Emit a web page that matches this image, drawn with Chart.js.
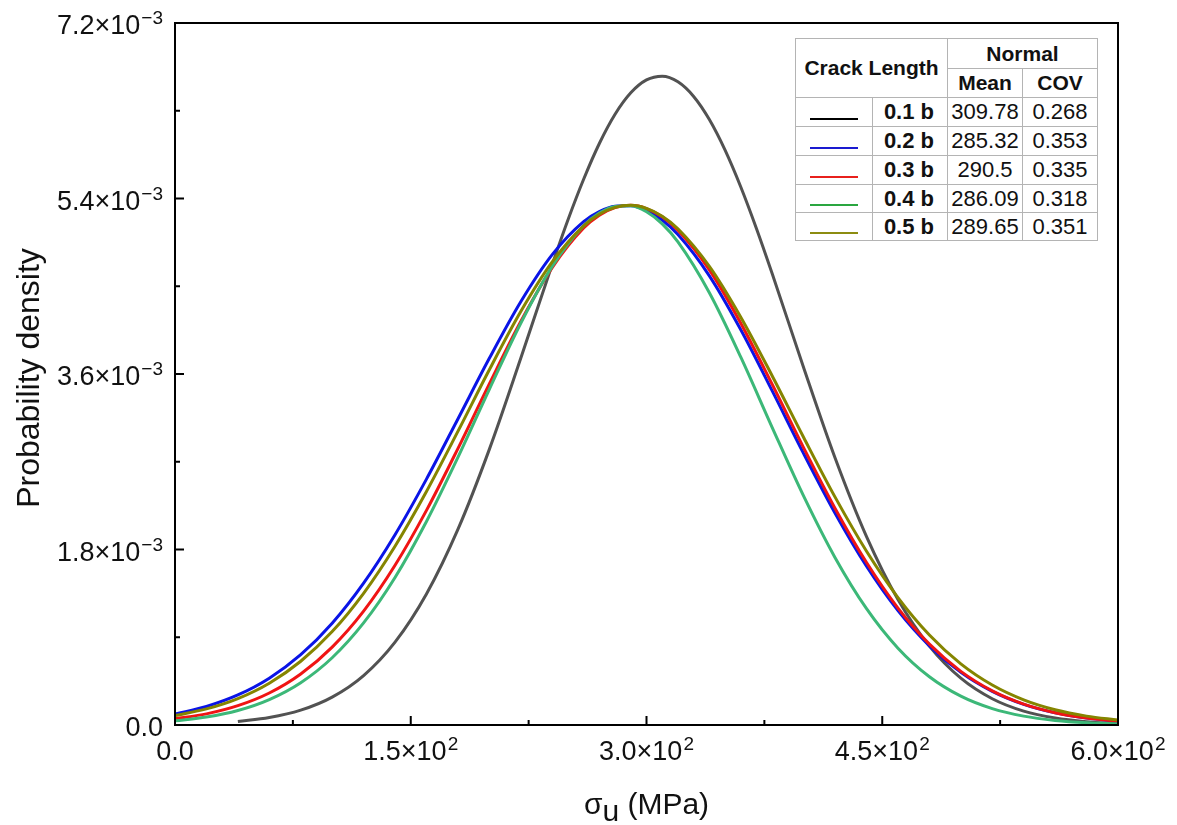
<!DOCTYPE html>
<html>
<head>
<meta charset="utf-8">
<script src="https://cdn.jsdelivr.net/npm/chart.js@4"></script>
<style>
  body { margin: 0; background: #fff; }
  #wrap { position: relative; width: 1177px; height: 825px; }
  #legendTable {
    position: absolute; left: 795px; top: 38px; width: 302px;
    border-collapse: collapse; table-layout: fixed; background: #fff;
    font-family: 'Liberation Sans', Arial, sans-serif; font-size: 22px; color: #111;
  }
  #legendTable td, #legendTable th { border: 1px solid #b4b4b4; padding: 0; text-align: center; }
  #legendTable th { font-weight: bold; font-size: 21px; }
  #legendTable td.lbl { text-align: right; padding-right: 13px; font-weight: bold; }
  #legendTable td.smp { position: relative; }
  #legendTable td.smp span { position: absolute; left: 14px; bottom: 6px; width: 48px; height: 2px; }
</style>
</head>
<body>
<div id="wrap">
  <canvas id="chart" width="1177" height="825"></canvas>
  <table id="legendTable">
    <colgroup><col style="width:77px"><col style="width:75px"><col style="width:75px"><col style="width:75px"></colgroup>
    <tr style="height:30px"><th colspan="2" rowspan="2">Crack Length</th><th colspan="2">Normal</th></tr>
    <tr style="height:29px"><th>Mean</th><th>COV</th></tr>
  </table>
</div>
<script>
// stress (MPa) and probability density (x10^-3), finer near the peaks
const stress = [0, 20, 40, 60, 80, 100, 120, 140, 160, 180, 200, 220, 240, 260, 270, 280, 290, 300, 310,
                320, 340, 360, 380, 400, 420, 440, 460, 480, 500, 520, 540, 560, 580, 600];
const stress01 = [40, 60, 80, 100, 120, 140, 160, 180, 200, 220, 240, 250, 260, 270, 280, 290, 300, 310,
                  320, 330, 340, 350, 360, 370, 380, 400, 420, 440, 460, 480, 500, 520, 540, 560, 580, 600];
const pdf01 = [0.036, 0.076, 0.152, 0.286, 0.507, 0.850, 1.344, 2.006, 2.827, 3.761, 4.722, 5.179, 5.597, 5.964,
               6.264, 6.484, 6.616, 6.655, 6.597, 6.447, 6.210, 5.896, 5.518, 5.090, 4.628, 3.665, 2.739, 1.933,
               1.287, 0.809, 0.480, 0.269, 0.142, 0.071, 0.034, 0.015];
const pdf02 = [0.113, 0.190, 0.308, 0.480, 0.721, 1.044, 1.455, 1.952, 2.522, 3.139, 3.761, 4.341, 4.824, 5.163,
               5.266, 5.321, 5.326, 5.278, 5.179,
               5.030, 4.607, 4.054, 3.427, 2.783, 2.172, 1.628, 1.173, 0.812, 0.540, 0.345, 0.212, 0.125, 0.071, 0.039];
const pdf03 = [0.063, 0.114, 0.198, 0.328, 0.523, 0.799, 1.168, 1.638, 2.201, 2.835, 3.499, 4.139, 4.691, 5.097,
               5.229, 5.307, 5.330, 5.297, 5.212,
               5.075, 4.668, 4.121, 3.493, 2.843, 2.221, 1.666, 1.199, 0.829, 0.550, 0.350, 0.214, 0.126, 0.071, 0.038];
const pdf04 = [0.043, 0.082, 0.149, 0.261, 0.434, 0.690, 1.047, 1.513, 2.087, 2.744, 3.443, 4.121, 4.704, 5.121,
               5.250, 5.319, 5.325, 5.264, 5.140,
               4.955, 4.434, 3.773, 3.051, 2.347, 1.716, 1.193, 0.788, 0.495, 0.296, 0.168, 0.091, 0.047, 0.023, 0.011];
const pdf05 = [0.096, 0.165, 0.271, 0.429, 0.654, 0.958, 1.351, 1.834, 2.395, 3.011, 3.643, 4.240, 4.749, 5.119,
               5.238, 5.309, 5.330, 5.299, 5.218,
               5.090, 4.704, 4.183, 3.580, 2.949, 2.337, 1.782, 1.307, 0.923, 0.627, 0.410, 0.258, 0.156, 0.091, 0.051];

const crackLabels = ['0.1 b', '0.2 b', '0.3 b', '0.4 b', '0.5 b'];
const means = ['309.78', '285.32', '290.5', '286.09', '289.65'];
const covs = ['0.268', '0.353', '0.335', '0.318', '0.351'];
const lineColors = ['#525252', '#0a14e6', '#f01414', '#3cb878', '#858500'];
const legendColors = ['#000000', '#1a1ad0', '#e8201c', '#2aa640', '#8c8c10'];

const xTickBase = ['0.0', '1.5×10', '3.0×10', '4.5×10', '6.0×10'];
const xTickExp = ['', '2', '2', '2', '2'];
const yTickBase = ['0.0', '1.8×10', '3.6×10', '5.4×10', '7.2×10'];
const yTickExp = ['', '−3', '−3', '−3', '−3'];

const FONT = "'Liberation Sans', Arial, sans-serif";

// legend table rows
const table = document.getElementById('legendTable');
const rowHeights = [29, 29, 29, 28, 28];
crackLabels.forEach((lab, i) => {
    const tr = document.createElement('tr');
    tr.style.height = rowHeights[i] + 'px';
    tr.innerHTML = '<td class="smp"><span style="background:' + legendColors[i] + '"></span></td>' +
        '<td class="lbl">' + lab + '</td><td>' + means[i] + '</td><td>' + covs[i] + '</td>';
    table.appendChild(tr);
});

function drawPow(ctx, base, exp, x, baseline, align, size, supSize, supRise) {
    ctx.font = size + 'px ' + FONT;
    const wb = ctx.measureText(base).width;
    ctx.font = supSize + 'px ' + FONT;
    const we = exp ? ctx.measureText(exp).width + 1 : 0;
    const total = wb + we;
    const start = align === 'right' ? x - total : x - total / 2;
    ctx.textAlign = 'left';
    ctx.textBaseline = 'alphabetic';
    ctx.font = size + 'px ' + FONT;
    ctx.fillText(base, start, baseline);
    if (exp) {
        ctx.font = supSize + 'px ' + FONT;
        ctx.fillText(exp, start + wb + 1, baseline - supRise);
    }
}

const axisFrame = {
    id: 'axisFrame',
    afterDraw(chart) {
        const { ctx, chartArea: a, scales: { x, y } } = chart;
        ctx.save();
        ctx.strokeStyle = '#000';
        ctx.lineWidth = 2;
        ctx.strokeRect(a.left, a.top, a.right - a.left, a.bottom - a.top);

        ctx.beginPath();
        x.ticks.forEach((t, i) => {
            const px = x.getPixelForValue(t.value);
            ctx.moveTo(px, a.bottom); ctx.lineTo(px, a.bottom - 9);
            if (i < x.ticks.length - 1) {
                const pm = x.getPixelForValue((t.value + x.ticks[i + 1].value) / 2);
                ctx.moveTo(pm, a.bottom); ctx.lineTo(pm, a.bottom - 5);
            }
        });
        y.ticks.forEach((t, i) => {
            const py = y.getPixelForValue(t.value);
            ctx.moveTo(a.left, py); ctx.lineTo(a.left + 9, py);
            if (i < y.ticks.length - 1) {
                const pm = y.getPixelForValue((t.value + y.ticks[i + 1].value) / 2);
                ctx.moveTo(a.left, pm); ctx.lineTo(a.left + 5, pm);
            }
        });
        ctx.stroke();

        ctx.fillStyle = '#111';
        x.ticks.forEach((t, i) => {
            drawPow(ctx, xTickBase[i], xTickExp[i], x.getPixelForValue(t.value), a.bottom + 35, 'center', 27, 19, 10);
        });
        y.ticks.forEach((t, i) => {
            drawPow(ctx, yTickBase[i], yTickExp[i], a.left - 12, y.getPixelForValue(t.value) + 11, 'right', 27, 19, 10);
        });

        // y title
        ctx.save();
        ctx.font = '32px ' + FONT;
        ctx.textAlign = 'center';
        ctx.textBaseline = 'alphabetic';
        ctx.translate(39, (a.top + a.bottom) / 2 + 4);
        ctx.rotate(-Math.PI / 2);
        ctx.fillText('Probability density', 0, 0);
        ctx.restore();

        // x title: sigma with subscript u
        ctx.font = '30px ' + FONT;
        const wS = ctx.measureText('σ').width;
        const wU = ctx.measureText('u').width;
        const wR = ctx.measureText(' (MPa)').width;
        const sx = (a.left + a.right) / 2 - (wS + wU + wR) / 2;
        const base = 814;
        ctx.textAlign = 'left';
        ctx.fillText('σ', sx, base);
        ctx.fillText('u', sx + wS, base + 7);
        ctx.fillText(' (MPa)', sx + wS + wU, base);
        ctx.restore();
    }
};

const series = [pdf01, pdf02, pdf03, pdf04, pdf05];
const xValues = [stress01, stress, stress, stress, stress];
const datasets = series.map((vals, i) => ({
    label: crackLabels[i],
    data: xValues[i].map((s, j) => ({ x: s, y: vals[j] })),
    borderColor: lineColors[i],
    borderWidth: 3,
    pointRadius: 0,
    cubicInterpolationMode: 'monotone',
    fill: false,
    order: series.length - i
}));

new Chart(document.getElementById('chart').getContext('2d'), {
    type: 'line',
    data: { datasets: datasets },
    options: {
        responsive: false,
        animation: false,
        layout: { padding: { left: 0, top: 23, right: 59, bottom: 0 } },
        plugins: { legend: { display: false }, tooltip: { enabled: false } },
        scales: {
            x: {
                type: 'linear', min: 0, max: 600,
                ticks: { stepSize: 150, display: false },
                grid: { display: false, drawTicks: false },
                border: { display: false },
                afterFit(s) { s.height = 100; }
            },
            y: {
                type: 'linear', min: 0, max: 7.2,
                ticks: { stepSize: 1.8, display: false },
                grid: { display: false, drawTicks: false },
                border: { display: false },
                afterFit(s) { s.width = 175; }
            }
        }
    },
    plugins: [axisFrame]
});
</script>
</body>
</html>
